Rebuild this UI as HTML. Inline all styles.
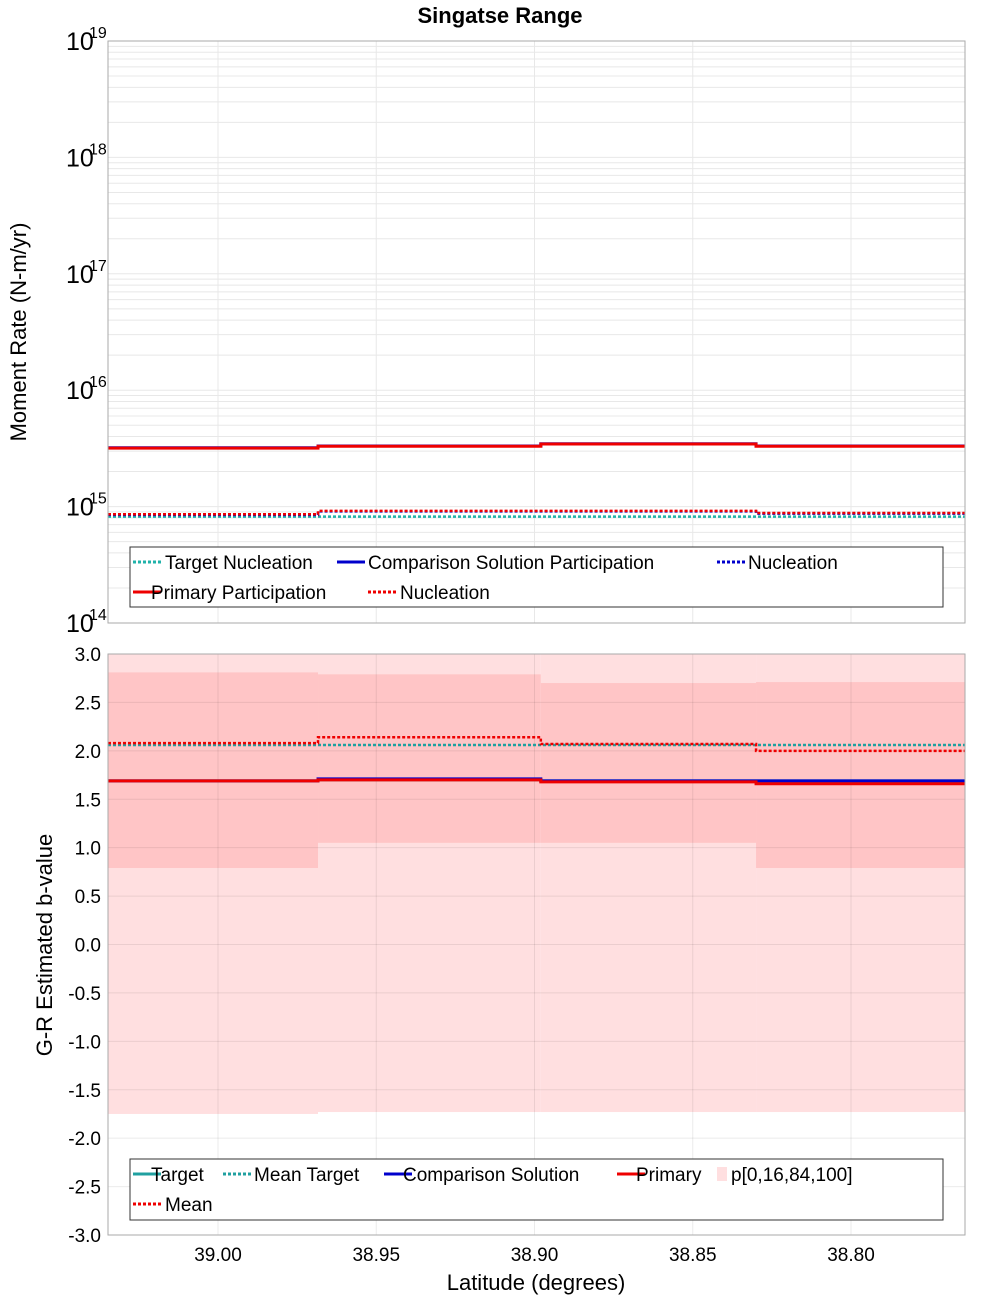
<!DOCTYPE html>
<html><head><meta charset="utf-8"><style>
body{margin:0;background:#fff;}
svg{font-family:"Liberation Sans","DejaVu Sans",sans-serif;display:block}
</style></head><body>
<svg id="c" width="1000" height="1300" xmlns="http://www.w3.org/2000/svg">
<rect width="1000" height="1300" fill="#fff"/>
<text x="500" y="23" text-anchor="middle" font-size="22" font-weight="bold">Singatse Range</text>
<g id="topg"></g><g id="botg"></g>
</svg>
<script>
// data
const segEdges=[39.0348,38.9684,38.898,38.830,38.764];
const xTicks=[39.00,38.95,38.90,38.85,38.80];
const xTickLabels=["39.00","38.95","38.90","38.85","38.80"];
const topExp=[14,15,16,17,18,19];
const primaryPart=[3.18e15,3.3e15,3.45e15,3.3e15];
const compPart=[3.2e15,3.32e15,3.47e15,3.32e15];
const primaryNucl=[8.6e14,9.2e14,9.2e14,8.8e14];
const compNucl=[8.5e14,9.1e14,9.1e14,8.7e14];
const targetNucl=[8.2e14,8.2e14,8.2e14,8.2e14];
const bTicks=[3.0,2.5,2.0,1.5,1.0,0.5,0.0,-0.5,-1.0,-1.5,-2.0,-2.5,-3.0];
const p0=[-1.75,-1.73,-1.73,-1.73];
const p16=[0.79,1.05,1.05,0.79];
const p84=[2.81,2.79,2.70,2.71];
const p100=[3.2,3.2,3.2,3.2];
const primaryB=[1.69,1.70,1.68,1.66];
const compB=[1.69,1.71,1.69,1.69];
const targetB=[1.69,1.70,1.69,1.69];
const meanB=[2.08,2.14,2.07,2.00];
const meanTargetB=[2.06,2.06,2.06,2.06];

const NS="http://www.w3.org/2000/svg";
const L=108,R=965;
const X=lat=>218+(39.0-lat)*3165;
const TT=41,TB=623;
const YT=v=>TB-(Math.log10(v)-14)*(TB-TT)/5;
const BT=654,BB=1235;
const YB=v=>BT+(3-v)*(BB-BT)/6;
function el(p,t,a,txt){const e=document.createElementNS(NS,t);for(const k in a)e.setAttribute(k,a[k]);if(txt!==undefined)e.textContent=txt;p.appendChild(e);return e;}
function step(g,vals,Y,color,w,dash,name){
  let d="";
  for(let i=0;i<vals.length;i++){const x0=Math.max(L,X(segEdges[i])),x1=Math.min(R,X(segEdges[i+1]));const y=Y(vals[i]);d+=(i?"L":"M")+x0+","+y+"L"+x1+","+y;}
  const p=el(g,"path",{d:d,fill:"none",stroke:color,"stroke-width":w});
  if(dash)p.setAttribute("stroke-dasharray",dash);
  
  
}
function legendLine(g,x,y,color,dash,w){const l=el(g,"line",{x1:x,y1:y,x2:x+28,y2:y,stroke:color,"stroke-width":w||3});if(dash)l.setAttribute("stroke-dasharray",dash);}

// TOP
const gTop=document.getElementById("topg");
el(gTop,"rect",{x:L,y:TT,width:R-L,height:TB-TT,fill:"#fff"});
for(let e=14;e<19;e++)for(let m=1;m<10;m++){const y=YT(m*Math.pow(10,e));el(gTop,"line",{x1:L,x2:R,y1:y,y2:y,stroke:"#e8e8e8","stroke-width":1});}
xTicks.forEach(t=>el(gTop,"line",{x1:X(t),x2:X(t),y1:TT,y2:TB,stroke:"#e8e8e8"}));
topExp.forEach(e=>{const y=YT(Math.pow(10,e));const t=el(gTop,"text",{x:66,y:y+9,"font-size":25});t.textContent="10";
  
  el(gTop,"text",{x:89,y:y-3,"font-size":16},String(e));});
const yt=el(gTop,"text",{transform:"translate(26,332) rotate(-90)","text-anchor":"middle","font-size":22},"Moment Rate (N-m/yr)");

step(gTop,targetNucl,YT,"#20b2aa",2.5,"3,2","target-nucleation-line");
step(gTop,compNucl,YT,"#0000cc",2.5,"3,2","comparison-nucleation-line");
step(gTop,primaryNucl,YT,"#ee0000",2.5,"3,2","primary-nucleation-line");
step(gTop,compPart,YT,"#0000cc",3,null,"comparison-participation-line");
step(gTop,primaryPart,YT,"#ee0000",3,null,"primary-participation-line");
el(gTop,"rect",{x:L,y:TT,width:R-L,height:TB-TT,fill:"none",stroke:"#aaa"});
const lg=el(gTop,"g",{"font-size":19});
el(lg,"rect",{x:130,y:547,width:813,height:60,fill:"#fff",stroke:"#333"});
legendLine(lg,133,562,"#20b2aa","3,2");el(lg,"text",{x:165,y:569},"Target Nucleation");
legendLine(lg,337,562,"#0000cc");el(lg,"text",{x:368,y:569},"Comparison Solution Participation");
legendLine(lg,717,562,"#0000cc","3,2");el(lg,"text",{x:748,y:569},"Nucleation");
legendLine(lg,133,592,"#ee0000");el(lg,"text",{x:151,y:599},"Primary Participation");
legendLine(lg,368,592,"#ee0000","3,2");el(lg,"text",{x:400,y:599},"Nucleation");

// BOTTOM
const gBot=document.getElementById("botg");
el(gBot,"rect",{x:L,y:BT,width:R-L,height:BB-BT,fill:"#fff"});
for(let i=0;i<4;i++){const x0=Math.max(L,X(segEdges[i])),x1=Math.min(R,X(segEdges[i+1]));
  const y0=YB(Math.min(3,p100[i])),y1=YB(p0[i]);
  const r=el(gBot,"rect",{x:x0,y:y0,width:x1-x0,height:y1-y0,fill:"#ffdfe0"});
  const a=YB(p84[i]),b=YB(p16[i]);
  const r2=el(gBot,"rect",{x:x0,y:a,width:x1-x0,height:b-a,fill:"#ffc5c6"});}
bTicks.forEach(t=>{const y=YB(t);el(gBot,"line",{x1:L,x2:R,y1:y,y2:y,stroke:"rgba(0,0,0,0.08)"});
  const tx=el(gBot,"text",{x:101,y:y+7,"text-anchor":"end","font-size":19},t.toFixed(1));});
xTicks.forEach((t,i)=>{el(gBot,"line",{x1:X(t),x2:X(t),y1:BT,y2:BB,stroke:"rgba(0,0,0,0.08)"});
  const tx=el(gBot,"text",{x:X(t),y:1261,"text-anchor":"middle","font-size":19},xTickLabels[i]);});
const yb=el(gBot,"text",{transform:"translate(52,945) rotate(-90)","text-anchor":"middle","font-size":22},"G-R Estimated b-value");

const xt=el(gBot,"text",{x:536,y:1290,"text-anchor":"middle","font-size":22},"Latitude (degrees)");

step(gBot,meanTargetB,YB,"#20a0a0",2.5,"3,2","mean-target-line");
step(gBot,meanB,YB,"#ee0000",2.5,"3,2","mean-line");
step(gBot,targetB,YB,"#20a0a0",3,null,"target-line");
step(gBot,compB,YB,"#0000cc",3,null,"comparison-line");
step(gBot,primaryB,YB,"#ee0000",3,null,"primary-line");
el(gBot,"rect",{x:L,y:BT,width:R-L,height:BB-BT,fill:"none",stroke:"#aaa"});
const lb=el(gBot,"g",{"font-size":19});
el(lb,"rect",{x:130,y:1159,width:813,height:61,fill:"#fff",stroke:"#333"});
legendLine(lb,133,1174,"#20a0a0");el(lb,"text",{x:151,y:1181},"Target");
legendLine(lb,223,1174,"#20a0a0","3,2");el(lb,"text",{x:254,y:1181},"Mean Target");
legendLine(lb,384,1174,"#0000cc");el(lb,"text",{x:403,y:1181},"Comparison Solution");
legendLine(lb,617,1174,"#ee0000");el(lb,"text",{x:636,y:1181},"Primary");
el(lb,"rect",{x:717,y:1167,width:10,height:14,fill:"#ffdfe0"});el(lb,"text",{x:731,y:1181},"p[0,16,84,100]");
legendLine(lb,133,1204,"#ee0000","3,2");el(lb,"text",{x:165,y:1211},"Mean");
</script>
</body></html>
